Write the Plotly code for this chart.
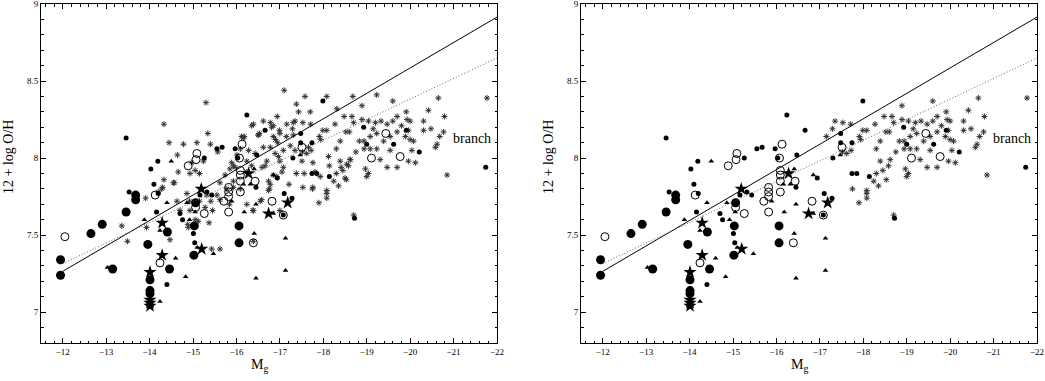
"""
Metallicity - luminosity diagram (12 + log O/H vs M_g), two panels.
Left: whole sample, right: only the asterisk 'branch' sub-sample.
"""

import plotly.graph_objects as go

# --- data -------------------------------------------------------------
# big filled circles
big_m = [-11.95, -11.95, -12.65, -12.91, -13.15, -13.46, -13.68, -13.68, -13.96, -14.41,
         -14.46, -14.01, -14.01, -14.01, -15.06, -15.03, -15.02, -16.06, -16.06]
big_oh = [7.34, 7.24, 7.51, 7.57, 7.28, 7.65, 7.76, 7.73, 7.44, 7.52,
          7.28, 7.21, 7.14, 7.12, 7.71, 7.56, 7.37, 7.56, 7.45]

# small filled circles
dot_m = [-13.46, -13.53, -14.10, -14.03, -14.19, -14.16, -14.40, -14.70, -14.76, -15.01,
         -15.04, -15.26, -15.16, -15.32, -15.43, -15.55, -15.67, -15.97, -16.03, -16.24,
         -16.47, -16.45, -16.66, -17.99, -17.48, -17.48, -17.74, -17.30, -17.74, -17.85,
         -18.14, -16.94, -17.10, -17.28, -18.72, -18.93, -19.00, -19.62, -19.91, -20.21,
         -21.74, -14.20, -17.08]
dot_oh = [8.13, 7.78, 7.83, 7.93, 7.98, 7.65, 7.18, 7.64, 7.60, 7.51,
          7.45, 8.00, 7.76, 7.78, 7.76, 8.06, 8.07, 8.06, 8.00, 8.28,
          8.02, 7.81, 8.18, 8.37, 8.16, 8.10, 8.10, 8.00, 7.90, 7.90,
          7.88, 7.87, 7.77, 7.74, 7.61, 8.20, 8.09, 8.09, 8.18, 8.04,
          7.94, 7.77, 7.63]

# open circles
open_m = [-12.05, -14.13, -14.24, -14.89, -15.07, -15.09, -15.06, -15.26, -15.82, -15.82,
          -15.82, -15.71, -15.82, -16.09, -16.09, -16.09, -16.09, -16.07, -16.13, -16.43,
          -16.39, -16.82, -17.08, -17.51, -19.44, -19.11, -19.77]
open_oh = [7.49, 7.76, 7.32, 7.95, 7.99, 8.03, 7.68, 7.64, 7.81, 7.78,
           7.75, 7.72, 7.65, 7.92, 7.89, 7.85, 7.78, 8.00, 8.09, 7.85,
           7.45, 7.72, 7.63, 8.07, 8.16, 8.00, 8.01]

# filled triangles
tri_m = [-13.03, -13.88, -14.24, -14.50, -14.40, -14.60, -14.24, -14.86, -14.92, -15.05,
         -15.10, -15.47, -14.83, -15.89, -16.16, -16.18, -16.41, -16.85, -16.85, -16.45,
         -16.41, -17.13, -16.45, -17.13, -17.47, -16.32]
tri_oh = [7.29, 7.60, 7.53, 7.98, 7.71, 7.35, 7.07, 7.71, 7.60, 7.65,
          7.42, 7.38, 7.23, 7.72, 7.83, 7.65, 7.93, 7.89, 7.64, 7.70,
          7.51, 7.48, 7.22, 7.27, 8.02, 7.83]

# filled stars
star_m = [-14.29, -14.29, -14.01, -14.01, -14.01, -14.01, -15.19, -15.20, -16.28, -16.74, -17.18]
star_oh = [7.58, 7.37, 7.26, 7.08, 7.06, 7.04, 7.80, 7.41, 7.90, 7.64, 7.71]

# asterisks of the bright "branch" (drawn in both panels)
br_m = [-17.15, -17.35, -17.53, -17.29, -17.71, -17.99, -18.08, -18.27, -18.48, -18.66,
        -18.89, -19.60, -20.65, -21.77, -20.42, -20.79, -20.31, -20.48, -20.31, -19.91,
        -19.93, -20.00, -19.70, -19.60, -19.47, -19.33, -19.20, -19.04, -18.89, -18.70,
        -18.52, -18.60, -18.39, -18.30, -18.83, -18.94, -19.08, -19.23, -19.39, -19.54,
        -19.70, -19.89, -19.96, -20.08, -20.04, -19.54, -19.23, -19.08, -18.94, -19.31,
        -19.47, -19.70, -19.96, -20.12, -18.97, -19.04, -19.00, -18.62, -18.58, -18.45,
        -18.30, -18.24, -18.35, -18.53, -18.08, -18.08, -18.08, -17.90, -17.75, -17.94,
        -17.91, -18.39, -20.58, -20.68, -20.77, -20.85, -20.62, -18.70, -17.52, -17.62,
        -17.72, -19.80, -20.00, -18.75, -19.15]
br_oh = [8.14, 8.24, 8.23, 8.19, 8.22, 8.18, 8.18, 8.22, 8.27, 8.27,
         8.34, 8.37, 8.39, 8.39, 8.31, 8.27, 8.24, 8.19, 8.18, 8.30,
         8.25, 8.24, 8.27, 8.24, 8.22, 8.24, 8.23, 8.24, 8.25, 8.23,
         8.17, 8.17, 8.11, 8.06, 8.11, 8.11, 8.14, 8.16, 8.11, 8.14,
         8.17, 8.14, 8.18, 8.11, 8.05, 8.05, 8.06, 8.06, 8.06, 7.99,
         7.94, 7.94, 7.98, 7.97, 7.93, 7.90, 7.88, 7.99, 7.95, 7.92,
         7.90, 7.85, 7.82, 7.86, 7.79, 7.77, 7.74, 7.71, 7.80, 8.12,
         8.14, 7.98, 8.07, 8.14, 8.17, 7.89, 8.09, 7.63, 8.04, 8.03,
         8.05, 8.21, 8.12, 8.04, 8.19]

# asterisks of the rest of the sample (left panel only)
ast_m = [-15.30, -14.33, -14.45, -14.78, -15.09, -15.34, -14.64, -14.97, -15.05, -15.15,
         -15.24, -14.66, -14.93, -15.40, -15.57, -14.33, -14.57, -13.91, -14.28, -13.36,
         -13.93, -13.49, -14.47, -14.63, -14.86, -14.92, -14.93, -14.70, -14.89, -15.12,
         -15.37, -15.45, -15.43, -15.15, -15.32, -15.55, -15.62, -15.74, -15.85, -15.89,
         -15.97, -16.01, -16.09, -16.18, -16.35, -16.28, -16.43, -16.53, -16.59, -16.70,
         -16.78, -16.85, -16.94, -17.00, -16.85, -16.78, -16.89, -17.00, -16.78, -16.76,
         -16.93, -17.05, -16.24, -15.93, -15.78, -15.62, -16.09, -16.24, -16.39, -16.55,
         -17.00, -16.39, -16.12, -16.50, -14.30, -14.88, -15.05, -15.28, -15.41, -15.84,
         -15.93, -15.62, -14.55, -16.16, -16.39, -16.62, -16.81, -16.99, -16.51, -16.62,
         -15.93, -16.24, -16.35, -16.66, -16.85, -16.74, -16.74, -16.58, -16.38, -17.08,
         -17.08, -16.97, -16.90, -16.95, -14.20,
         -17.10, -17.58, -18.08, -18.68, -19.23, -17.38, -18.31, -17.43, -17.70, -17.16,
         -17.31, -17.31, -17.24, -17.35, -17.66, -17.51, -17.76, -17.38, -17.56, -17.81,
         -17.93, -17.53, -17.76, -18.50, -17.21, -18.14, -18.41, -18.54, -18.62, -18.12]
ast_oh = [8.36, 8.22, 8.10, 8.09, 8.10, 8.16, 8.02, 7.97, 7.92, 7.90,
          7.98, 7.91, 7.90, 8.09, 8.04, 7.86, 7.84, 7.74, 7.80, 7.56,
          7.55, 7.46, 7.47, 7.72, 7.77, 7.72, 7.66, 7.66, 7.55, 7.59,
          7.58, 7.66, 7.41, 7.72, 7.76, 7.76, 7.84, 7.89, 7.93, 7.97,
          7.94, 8.02, 8.06, 8.14, 8.21, 8.05, 8.03, 8.16, 7.94, 7.98,
          8.23, 8.21, 8.27, 8.16, 8.14, 8.07, 8.03, 7.98, 7.83, 7.80,
          7.88, 7.91, 7.91, 7.85, 7.80, 7.73, 7.80, 7.70, 7.66, 7.72,
          7.66, 7.46, 8.14, 8.15, 7.81, 7.57, 7.60, 7.68, 7.72, 7.70,
          7.81, 7.41, 7.84, 8.13, 8.22, 8.24, 8.20, 8.18, 8.15, 8.07,
          7.95, 7.98, 7.95, 7.95, 7.89, 7.85, 7.79, 7.73, 7.66, 7.94,
          8.05, 8.01, 8.12, 8.10, 7.78,
          8.44, 8.40, 8.40, 8.40, 8.41, 8.35, 8.32, 8.30, 8.30, 8.22,
          8.23, 8.15, 8.08, 8.05, 8.07, 7.98, 7.97, 7.90, 7.90, 7.91,
          7.88, 7.81, 7.81, 7.87, 7.83, 7.95, 7.94, 7.96, 7.99, 8.01]

# fitted relations
fit_m = [-12.0, -22.0]
fit_solid = [7.265, 8.915]
fit_dotted = [7.315, 8.65]

FONT = "Liberation Serif"

fig = go.Figure()


def add_panel(xa, ya, show_all):
    """Adds the markers and fits of one panel."""
    kw = dict(xaxis=xa, yaxis=ya, mode='markers', showlegend=False, hoverinfo='skip')
    ast_marker = dict(symbol='asterisk-open', size=5, color='#333',
                      line=dict(color='#333', width=1))
    if show_all:
        fig.add_trace(go.Scatter(x=ast_m, y=ast_oh, marker=ast_marker, **kw))
    fig.add_trace(go.Scatter(x=br_m, y=br_oh, marker=ast_marker, **kw))
    fig.add_trace(go.Scatter(x=big_m, y=big_oh, marker=dict(
        symbol='circle', size=9, color='black', line=dict(width=0)), **kw))
    fig.add_trace(go.Scatter(x=dot_m, y=dot_oh, marker=dict(
        symbol='circle', size=5, color='black', line=dict(width=0)), **kw))
    fig.add_trace(go.Scatter(x=open_m, y=open_oh, marker=dict(
        symbol='circle-open', size=8, color='black', line=dict(width=1)), **kw))
    fig.add_trace(go.Scatter(x=tri_m, y=tri_oh, marker=dict(
        symbol='triangle-up', size=5, color='black', line=dict(width=0)), **kw))
    fig.add_trace(go.Scatter(x=star_m, y=star_oh, marker=dict(
        symbol='star', size=10, color='black', line=dict(width=0)), **kw))
    kw['mode'] = 'lines'
    fig.add_trace(go.Scatter(x=fit_m, y=fit_solid, line=dict(color='black', width=1), **kw))
    fig.add_trace(go.Scatter(x=fit_m, y=fit_dotted,
                             line=dict(color='#666', width=1, dash='1px,2px'), **kw))


add_panel('x', 'y', True)
add_panel('x2', 'y2', False)

xaxis_style = dict(
    range=[-11.5, -22], tick0=-12, dtick=1, ticks='inside', ticklen=5, tickwidth=1,
    tickcolor='black', showline=True, linecolor='black', linewidth=1, mirror='allticks',
    showgrid=False, zeroline=False, automargin=False, ticklabeloverflow='allow',
    minor=dict(dtick=0.2, ticks='inside', ticklen=2.5, tickcolor='black', showgrid=False),
    tickfont=dict(family=FONT, size=9, color='black'),
)
yaxis_style = dict(
    range=[6.8, 9], tick0=7, dtick=0.5, ticks='inside', ticklen=5, tickwidth=1,
    tickcolor='black', showline=True, linecolor='black', linewidth=1, mirror='allticks',
    showgrid=False, zeroline=False, automargin=False, ticklabeloverflow='allow',
    minor=dict(dtick=0.1, ticks='inside', ticklen=2.5, tickcolor='black', showgrid=False),
    tickfont=dict(family=FONT, size=9, color='black'),
)

y_dom = [38 / 381, 377 / 381]
fig.update_layout(
    width=1045, height=381,
    margin=dict(l=0, r=0, t=0, b=0, autoexpand=False),
    paper_bgcolor='white', plot_bgcolor='white',
    xaxis=dict(domain=[41 / 1045, 497 / 1045], anchor='y', **xaxis_style),
    yaxis=dict(domain=y_dom, anchor='x', **yaxis_style),
    xaxis2=dict(domain=[581 / 1045, 1037 / 1045], anchor='y2', **xaxis_style),
    yaxis2=dict(domain=y_dom, anchor='x2', **yaxis_style),
    font=dict(family=FONT, color='black'),
)

# titles and labels (placed like in the original figure)
for xa, ya, x_ytitle, x_xtitle in [('x', 'y', 8, 259), ('x2', 'y2', 548, 799)]:
    fig.add_annotation(text="12 + log O/H", textangle=-90, xref='paper', yref='paper',
                       x=x_ytitle / 1045, y=(381 - 157) / 381, showarrow=False,
                       xanchor='center', yanchor='middle',
                       font=dict(family=FONT, size=14))
    fig.add_annotation(text="M<sub>g</sub>", xref='paper', yref='paper',
                       x=x_xtitle / 1045, y=(381 - 365) / 381, showarrow=False,
                       xanchor='center', yanchor='middle',
                       font=dict(family=FONT, size=14))
    fig.add_annotation(text="branch", xref=xa, yref=ya, x=-21.43, y=8.13,
                       showarrow=False, xanchor='center', yanchor='middle',
                       font=dict(family=FONT, size=14))

# the page body has a default 8px margin: remove it so the figure fills the window
fig.write_html("out.html", config={'displayModeBar': False},
               post_script="document.body.style.margin='0';")
